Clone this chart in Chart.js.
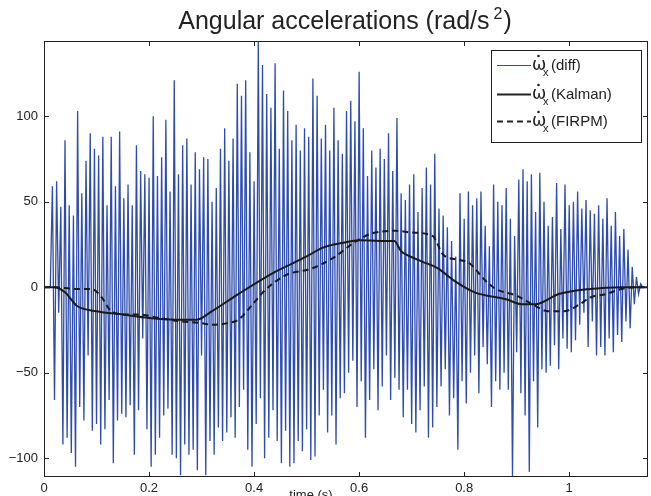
<!DOCTYPE html>
<html>
<head>
<meta charset="utf-8">
<script src="https://cdn.jsdelivr.net/npm/chart.js@4.4.0/dist/chart.umd.min.js"></script>
<style>
    html, body { margin: 0; padding: 0; background: #fff; }
    #wrap { width: 651px; height: 496px; }
</style>
</head>
<body>
<div id="wrap"><canvas id="chart" width="651" height="496"></canvas></div>
<script>
// sample step of the differentiated signal (s)
const diffStep = 0.004;

// ω̇x (diff) – raw differentiated gyro
const diffValues = [
    0, 0, 0, 0,
    59, -66, 62, -15, 47, -92, 86, -88, 48, -97, 42, -105, 103, -70, 55, -78,
    74, -40, 90, -84, 81, -80, 77, -92, 88, -83, 48, -66, 88, -103, 59, -78,
    91, -74, 52, -76, 60, -69, 48, -98, 83, -72, 68, -30, 66, -83, 64, -105,
    100, -98, 65, -88, 76, -75,
    98, -71, 56, -98, 121, -100, 66, -110, 83, -92, 87, -98, 60, -95, 79, -107,
    69, -40, 76, -110, 75, -90, 50, -98, 58, -82, 81, -90, 93, -85, 74, -76,
    87, -88, 119, -70, 112, -60, 121, -95, 79, -105, 62, -80, 144, -65, 130, -100,
    113, -88, 105, -72, 131, -90, 81, -103,
    115, -84, 103, -105, 86, -103, 95, -90, 80, -96, 93, -83, 88, -101, 122, -99,
    112, -75, 87, -60, 95, -85, 80, -75, 105, -92, 86, -65, 78, -62, 103, -50,
    109, -43, 97, -70, 126, -55, 93, -88, 65, -66, 80, -48, 70, -72, 81, -58,
    75, -40, 90, -66, 68, -53, 99, -60,
    55, -76, 51, -60, 60, -80, 66, -85, 44, -72, 58, -58, 70, -88, 60, -82,
    78, -70, 46, -58, 42, -48, 35, -75, 27, -65, 18, -95, 55, -55, 40, -68,
    56, -50, 48, -40, 52, -62, 56, -35, 36, -45, 24, -70, 60, -55, 50, -60,
    48, -50, 58, -60, 40, -111, 30, -38,
    63, -62, 69, -75, 62, -108, 66, -55, 44, -82, 67, -48, 50, -50, 36, -46,
    41, -34, 61, -48, 34, -30, 60, -36, 48, -38, 50, -31, 56, -22, 46, -15,
    51, -35, 45, -20, 43, -40, 48, -35, 40, -40, 52, -30, 36, -38, 44, -28,
    30, -32, 34, -20, 22, -24, 12, -10, 6, -4, 2, 0
];

// ω̇x (Kalman)
const kalmanTime = [0, 0.02, 0.04, 0.063, 0.1, 0.15, 0.2, 0.25, 0.29, 0.32,
    0.37, 0.44, 0.46, 0.5, 0.53, 0.57, 0.6, 0.64, 0.667, 0.68,
    0.69, 0.72, 0.75, 0.78, 0.82, 0.88, 0.91, 0.935, 0.98, 1.04, 1.1, 1.15];
const kalmanValues = [0, 0, -3, -11, -14, -16, -18, -19, -19, -14,
    -4, 9, 12, 18, 23, 26, 27.5, 27, 27, 21,
    19, 15, 11, 4, -3, -7, -10, -10, -4, -1, 0, 0];

// ω̇x (FIRPM)
const firpmTime = [0, 0.02, 0.06, 0.09, 0.11, 0.125, 0.15, 0.18, 0.22, 0.26,
    0.3, 0.32, 0.35, 0.37, 0.4, 0.42, 0.46, 0.51, 0.55, 0.59,
    0.62, 0.67, 0.7, 0.74, 0.76, 0.79, 0.81, 0.84, 0.86, 0.9,
    0.93, 0.96, 0.99, 1.02, 1.04, 1.07, 1.1, 1.13, 1.15];
const firpmValues = [0, 0, -1, -1, -6, -13, -16, -16, -18, -20,
    -21, -22, -21, -19, -9, -2, 7, 11, 17, 26,
    31, 33, 32, 30, 19, 16, 14, 4, -1, -5,
    -10, -14, -14, -10, -6, -4, -1, 0, 0];

const xTicks = [0, 0.2, 0.4, 0.6, 0.8, 1];
const yTicks = [-100, -50, 0, 50, 100];
const legendLabels = ['(diff)', '(Kalman)', '(FIRPM)'];

const INK = '#222';
const BLUE = '#2d4cad';
const FONT = '"Liberation Sans", Arial, sans-serif';

const fmt = v => (v < 0 ? '\u2212' + Math.abs(v) : String(v));

// box, inward ticks, legend, title and x label (MATLAB look)
const matlabFrame = {
    id: 'matlabFrame',
    afterDraw(chart) {
        const { ctx, chartArea: a, scales } = chart;
        ctx.save();
        ctx.strokeStyle = INK;
        ctx.lineWidth = 1;
        ctx.strokeRect(a.left + 0.5, a.top + 0.5, a.right - a.left - 1, a.bottom - a.top - 1);

        ctx.beginPath();
        xTicks.forEach(v => {
            const x = Math.round(scales.x.getPixelForValue(v)) + 0.5;
            ctx.moveTo(x, a.top); ctx.lineTo(x, a.top + 5);
            ctx.moveTo(x, a.bottom); ctx.lineTo(x, a.bottom - 5);
        });
        yTicks.forEach(v => {
            const y = Math.round(scales.y.getPixelForValue(v)) + 0.5;
            ctx.moveTo(a.left, y); ctx.lineTo(a.left + 5, y);
            ctx.moveTo(a.right, y); ctx.lineTo(a.right - 5, y);
        });
        ctx.stroke();

        // legend
        const lx = 491, ly = 50, lw = 150, lh = 92;
        ctx.fillStyle = '#fff';
        ctx.fillRect(lx, ly, lw, lh);
        ctx.strokeRect(lx + 0.5, ly + 0.5, lw, lh);
        const rows = [65, 94, 121];
        const styles = [
            { color: BLUE, width: 1, dash: [] },
            { color: INK, width: 2, dash: [] },
            { color: INK, width: 2, dash: [6, 4] }
        ];
        legendLabels.forEach((label, i) => {
            const y = rows[i], s = styles[i];
            ctx.beginPath();
            ctx.strokeStyle = s.color;
            ctx.lineWidth = s.width;
            ctx.setLineDash(s.dash);
            ctx.moveTo(497, y + 0.5); ctx.lineTo(531, y + 0.5);
            ctx.stroke();
            ctx.setLineDash([]);
            ctx.fillStyle = INK;
            ctx.textBaseline = 'alphabetic';
            ctx.textAlign = 'left';
            ctx.font = '17px "DejaVu Sans", sans-serif';
            ctx.fillText('\u03c9', 532, y + 5);
            ctx.beginPath();
            ctx.arc(538.5, y - 9, 1.3, 0, Math.PI * 2);
            ctx.fill();
            ctx.font = '11px ' + FONT;
            ctx.fillText('x', 543, y + 11);
            ctx.font = '15px ' + FONT;
            ctx.fillText(label, 551, y + 5);
        });

        // title with superscript
        ctx.fillStyle = INK;
        ctx.textBaseline = 'alphabetic';
        const big = '25px ' + FONT, small = '16px ' + FONT;
        const main = 'Angular accelerations (rad/s';
        ctx.font = big;
        const wMain = ctx.measureText(main).width;
        const wEnd = ctx.measureText(')').width;
        ctx.font = small;
        const wSup = ctx.measureText('2').width;
        let tx = 345 - (wMain + 4 + wSup + 1 + wEnd) / 2;
        ctx.font = big;
        ctx.fillText(main, tx, 29);
        tx += wMain + 4;
        ctx.font = small;
        ctx.fillText('2', tx, 19);
        tx += wSup + 1;
        ctx.font = big;
        ctx.fillText(')', tx, 29);

        // x label, clipped by the bottom edge like in the original
        ctx.font = '13px ' + FONT;
        ctx.textAlign = 'center';
        ctx.fillText('time (s)', 311, 499);
        ctx.restore();
    }
};

const tickFont = { family: FONT, size: 13 };

new Chart(document.getElementById('chart'), {
    type: 'line',
    data: {
        datasets: [
            {
                label: 'diff',
                data: diffValues.map((v, i) => ({ x: i * diffStep, y: v })),
                borderColor: BLUE,
                borderWidth: 1.3,
                pointRadius: 0,
                tension: 0,
                order: 3
            },
            {
                label: 'Kalman',
                data: kalmanTime.map((t, i) => ({ x: t, y: kalmanValues[i] })),
                borderColor: '#1a1a1a',
                borderWidth: 2,
                pointRadius: 0,
                cubicInterpolationMode: 'monotone',
                order: 2
            },
            {
                label: 'FIRPM',
                data: firpmTime.map((t, i) => ({ x: t, y: firpmValues[i] })),
                borderColor: '#1a1a1a',
                borderWidth: 2,
                borderDash: [6, 4],
                pointRadius: 0,
                cubicInterpolationMode: 'monotone',
                order: 1
            }
        ]
    },
    options: {
        responsive: false,
        animation: false,
        layout: { padding: { top: 41, right: 3, left: 0, bottom: 0 } },
        plugins: {
            legend: { display: false },
            title: { display: false },
            tooltip: { enabled: false }
        },
        scales: {
            x: {
                type: 'linear',
                min: 0,
                max: 1.15,
                afterBuildTicks: axis => { axis.ticks = xTicks.map(v => ({ value: v })); },
                afterFit: axis => { axis.height = 19; },
                grid: { display: false, drawTicks: false },
                border: { display: false },
                ticks: { color: INK, font: tickFont, padding: 4, maxRotation: 0, callback: fmt }
            },
            y: {
                min: -111,
                max: 144,
                afterBuildTicks: axis => { axis.ticks = yTicks.map(v => ({ value: v })); },
                afterFit: axis => { axis.width = 44; },
                grid: { display: false, drawTicks: false },
                border: { display: false },
                ticks: { color: INK, font: tickFont, padding: 6, callback: fmt }
            }
        }
    },
    plugins: [matlabFrame]
});
</script>
</body>
</html>
